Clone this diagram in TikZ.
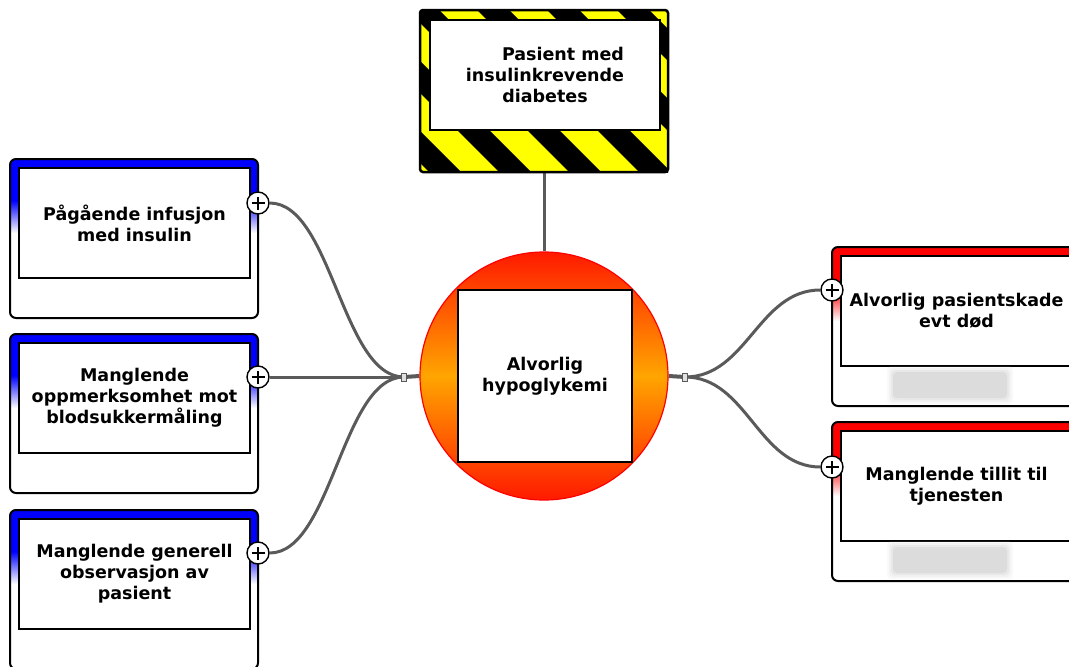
\documentclass[tikz,border=0pt]{standalone}
\usepackage{fontspec}
\setmainfont{DejaVu Sans}
\usetikzlibrary{backgrounds}
\definecolor{linkgray}{HTML}{5A5A5A}
\definecolor{hazyellow}{HTML}{FFFF00}
\definecolor{coreorange}{HTML}{FFA500}
\definecolor{corered}{HTML}{FF1A00}

\tikzset{
  lbl/.style={font=\fontsize{17.5}{21}\selectfont\bfseries, align=center},
  inbox/.style={draw=black, line width=2.2, fill=white, minimum width=231,
    minimum height=110, inner sep=0, lbl},
  conn/.style={draw=linkgray, line width=3},
  junc/.style={rectangle, minimum width=5, minimum height=8, inner sep=0,
    fill=black!12, draw=linkgray, line width=1},
  plus/.style={circle, draw=black, line width=1.4, fill=white, minimum size=22,
    inner sep=0, path picture={
      \draw[line width=1.6]
        ([xshift=-6.5pt]path picture bounding box.center) --
        ([xshift=6.5pt]path picture bounding box.center)
        ([yshift=-6.5pt]path picture bounding box.center) --
        ([yshift=6.5pt]path picture bounding box.center);}},
}

% framed box with a coloured top band that fades into white
\newcommand\causebox[5]{% #1 name, #2 left x, #3 top y, #4 colour, #5 text
  \begin{scope}[shift={(#2,#3)}]
    \fill[white, rounded corners=6] (0,0) rectangle (248,159);
    \begin{scope}
      \clip[rounded corners=6] (0,0) rectangle (248,159);
      \fill[#4] (0,0) rectangle (248,42);
      \shade[top color=#4, bottom color=white] (0,41.5) rectangle (248,74);
    \end{scope}
    \draw[line width=2, rounded corners=6] (0,0) rectangle (248,159);
    \node[inbox] (#1) at (124.5,64) {#5};
  \end{scope}}

% soft grey placeholder bar
\newcommand\greybar[2]{% #1 left x, #2 top y
  \foreach \d/\o in {6/0.1,4/0.15,2/0.25,0/0.4}
    \fill[black!20, opacity=\o, rounded corners=4]
      ({#1-\d},{#2-\d}) rectangle ({#1+114+\d},{#2+26+\d});}

\begin{document}
\begin{tikzpicture}[x=1pt, y=-1pt]
  \useasboundingbox (0,0) rectangle (1069,667);
  \clip (0,0) rectangle (1069,667);

  % hazard-striped frame at the top
  \fill[hazyellow, rounded corners=3] (420,10) rectangle (668,172);
  \begin{scope}
    \clip (420,10) rectangle (668,172);
    \foreach \k in {0,...,10}
      \fill[black] ({47+70*\k},0) -- ({79+70*\k},0) -- ({279+70*\k},200)
        -- ({247+70*\k},200) -- cycle;
  \end{scope}
  \node[minimum width=248, minimum height=162, inner sep=0, draw=black,
    line width=2.5, rounded corners=3] (top) at (544,91) {};
  \node[inbox, minimum width=230, line width=2.6] (toptext) at (545,75)
    {\hspace*{36pt}Pasient med\\insulinkrevende\\diabetes};

  % central event
  \node[circle, minimum size=248, inner sep=0, draw=red, line width=1.2,
    top color=corered, bottom color=corered, middle color=coreorange]
    (core) at (544,376) {};
  \node[inbox, minimum width=174, minimum height=172] (coretext) at (545,376)
    {Alvorlig\\hypoglykemi};

  % causes
  \causebox{c1}{10}{159}{blue}{Pågående infusjon\\med insulin}
  \causebox{c2}{10}{334}{blue}{Manglende\\oppmerksomhet mot\\blodsukkermåling}
  \causebox{c3}{10}{510}{blue}{Manglende generell\\observasjon av\\pasient}

  % consequences
  \causebox{k1}{832}{247}{red}{Alvorlig pasientskade\\evt død}
  \causebox{k2}{832}{422}{red}{Manglende tillit til\\tjenesten}
  \greybar{893}{372}
  \greybar{893}{547}

  % expand markers
  \node[plus] (p1) at (258,203) {};
  \node[plus] (p2) at (258,377) {};
  \node[plus] (p3) at (258,553) {};
  \node[plus] (q1) at (832,290) {};
  \node[plus] (q2) at (832,467) {};

  \coordinate (jl) at (404,377);
  \coordinate (jr) at (685,377);

  \begin{pgfonlayer}{background}
    \draw[conn] (top.south) -- (core.north);
    \draw[conn] (p1.east) .. controls +(62,0) and +(-62,0) .. (jl);
    \draw[conn] (p2.east) -- (jl);
    \draw[conn] (p3.east) .. controls +(62,0) and +(-62,0) .. (jl);
    \draw[conn, line width=4] (jl) -- (core.west);
    \draw[conn, line width=4] (core.east) -- (jr);
    \draw[conn] (jr) .. controls +(62,0) and +(-62,0) .. (q1.west);
    \draw[conn] (jr) .. controls +(62,0) and +(-62,0) .. (q2.west);
  \end{pgfonlayer}
  \node[junc] (jlbox) at (jl) {};
  \node[junc] (jrbox) at (jr) {};
\end{tikzpicture}
\end{document}
